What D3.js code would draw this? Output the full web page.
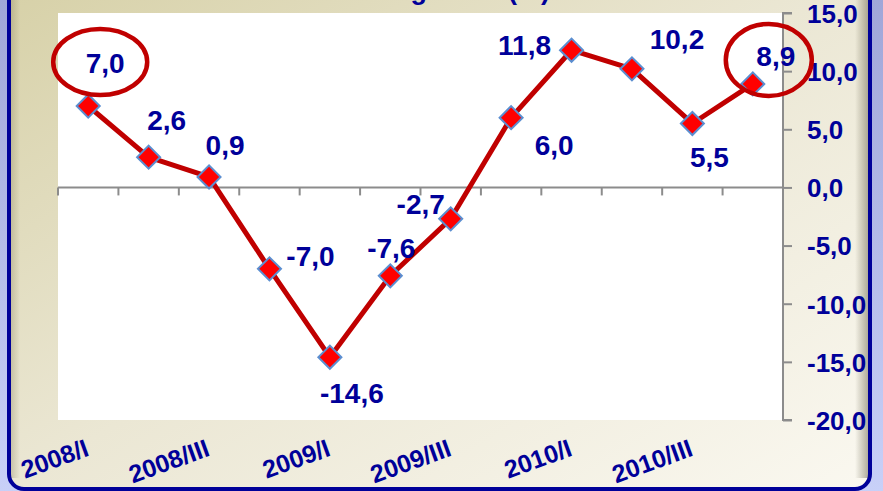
<!DOCTYPE html>
<html>
<head>
<meta charset="utf-8">
<script src="https://cdn.jsdelivr.net/npm/d3@7"></script>
<style>
  html, body { margin: 0; padding: 0; background: #b4bae8; overflow: hidden; }
  svg { display: block; font-family: Arial, "Liberation Sans", sans-serif; }
</style>
</head>
<body>
<svg id="chart" width="883" height="491"></svg>
<script>
// quarters
var categories = ["2008/I", "2008/II", "2008/III", "2008/IV", "2009/I", "2009/II",
                  "2009/III", "2009/IV", "2010/I", "2010/II", "2010/III", "2010/IV"];
// growth (%)
var values = [7.0, 2.6, 0.9, -7.0, -14.6, -7.6, -2.7, 6.0, 11.8, 10.2, 5.5, 8.9];
// labels written under the plot (every other quarter)
var shownLabels = ["2008/I", "2008/III", "2009/I", "2009/III", "2010/I", "2010/III"];
// right axis
var yTicks = [-20, -15, -10, -5, 0, 5, 10, 15];
// points whose label is circled
var circled = [0, 11];

// where each value label sits, relative to its marker (hand placed, like in the original)
var labelOffsets = [[17, -33], [18, -27], [16, -22], [41, -3], [22, 46], [1, -18],
                    [-30, -5], [43, 37], [-47, 5], [45, -20], [17, 44], [23, -18]];
// ellipse around a circled label: offset from label baseline and radii
var ellipseShape = { 0: [-5, -11, 47, 33], 11: [-7, -6, 43, 36] };

var W = 883, H = 491;
var plot = { left: 58, right: 783, top: 13, bottom: 420 };
var navy = "#000099";

var svg = d3.select("#chart");
var defs = svg.append("defs");

// background gradients
var g1 = defs.append("linearGradient").attr("id", "outer").attr("x1", 0).attr("y1", 0).attr("x2", 0).attr("y2", 1);
g1.append("stop").attr("offset", 0).attr("stop-color", "#a0a6d8");
g1.append("stop").attr("offset", 1).attr("stop-color", "#c8d0f8");

var g2 = defs.append("linearGradient").attr("id", "panel").attr("x1", 0).attr("y1", 0).attr("x2", 1).attr("y2", 1);
g2.append("stop").attr("offset", 0).attr("stop-color", "#d6d0a6");
g2.append("stop").attr("offset", 0.5).attr("stop-color", "#ebe7d4");
g2.append("stop").attr("offset", 1).attr("stop-color", "#faf8f0");

var g3 = defs.append("linearGradient").attr("id", "shadeR").attr("x1", 0).attr("y1", 0).attr("x2", 1).attr("y2", 0);
g3.append("stop").attr("offset", 0).attr("stop-color", "#6b6650").attr("stop-opacity", 0);
g3.append("stop").attr("offset", 1).attr("stop-color", "#6b6650").attr("stop-opacity", 0.55);

var g4 = defs.append("linearGradient").attr("id", "shadeL").attr("x1", 0).attr("y1", 0).attr("x2", 1).attr("y2", 0);
g4.append("stop").attr("offset", 0).attr("stop-color", "#8a8460").attr("stop-opacity", 0.35);
g4.append("stop").attr("offset", 1).attr("stop-color", "#8a8460").attr("stop-opacity", 0);

svg.append("rect").attr("width", W).attr("height", H).attr("fill", "url(#outer)");
svg.append("rect").attr("x", 9).attr("y", -30).attr("width", 861).attr("height", 519)
  .attr("rx", 15).attr("fill", "url(#panel)");
svg.append("rect").attr("x", 855).attr("y", 0).attr("width", 14).attr("height", 478).attr("fill", "url(#shadeR)");
svg.append("rect").attr("x", 11).attr("y", 0).attr("width", 9).attr("height", 478).attr("fill", "url(#shadeL)");
svg.append("rect").attr("x", 9).attr("y", -30).attr("width", 861).attr("height", 519)
  .attr("rx", 15).attr("fill", "none").attr("stroke", navy).attr("stroke-width", 4);

// title, almost entirely above the picture (only descenders show)
svg.append("text").attr("x", 550).attr("y", -1).attr("text-anchor", "end")
  .attr("font-size", 27).attr("font-weight", "bold").attr("fill", navy)
  .text("GDP growth (%)");

// plot area
svg.append("rect").attr("x", plot.left).attr("y", plot.top)
  .attr("width", plot.right - plot.left).attr("height", plot.bottom - plot.top).attr("fill", "#fff");

// scales
var x = d3.scaleBand().domain(categories).range([plot.left, plot.right]);
var y = d3.scaleLinear().domain([-20, 15]).range([plot.bottom, plot.top]);
var cx = function (c) { return x(c) + x.bandwidth() / 2; };

var loc = d3.formatLocale({ decimal: ",", thousands: ".", grouping: [3], currency: ["", ""], minus: "-" });
var fmt = loc.format(".1f");

// right axis
var yAxis = svg.append("g").attr("transform", "translate(" + plot.right + ",0)")
  .call(d3.axisRight(y).tickValues(yTicks).tickSize(9).tickPadding(15).tickFormat(fmt));
yAxis.selectAll("path, line").attr("stroke", "#8c8c8c").attr("stroke-width", 2);
yAxis.select(".domain").attr("d", "M9," + plot.top + "H0V" + plot.bottom + "H9");
yAxis.selectAll("text").attr("fill", navy).attr("font-size", 26).attr("font-weight", "bold")
  .attr("font-family", "Arial, 'Liberation Sans', sans-serif").attr("dy", "0.36em");

// horizontal axis at zero with ticks between quarters
var y0 = y(0);
var bounds = categories.map(function (c) { return x(c); }).concat([plot.right]);
svg.append("line").attr("x1", plot.left).attr("x2", plot.right).attr("y1", y0).attr("y2", y0)
  .attr("stroke", "#8c8c8c").attr("stroke-width", 2);
svg.selectAll("line.xtick").data(bounds).enter().append("line").attr("class", "xtick")
  .attr("x1", function (d) { return d; }).attr("x2", function (d) { return d; })
  .attr("y1", y0).attr("y2", y0 + 8)
  .attr("stroke", "#8c8c8c").attr("stroke-width", 2);

// quarter labels, low position
svg.selectAll("text.xlab").data(shownLabels).enter().append("text").attr("class", "xlab")
  .attr("transform", function (d) { return "translate(" + (cx(d) + 2) + ",455) rotate(-20)"; })
  .attr("text-anchor", "end").attr("font-size", 25).attr("font-weight", "bold").attr("fill", navy)
  .text(function (d) { return d; });

// line
var pts = categories.map(function (c, i) { return { c: c, v: values[i], i: i }; });
var line = d3.line().x(function (d) { return cx(d.c); }).y(function (d) { return y(d.v); });
svg.append("path").datum(pts).attr("d", line)
  .attr("fill", "none").attr("stroke", "#c00000").attr("stroke-width", 5).attr("stroke-linejoin", "round");

// diamonds
svg.selectAll("path.mark").data(pts).enter().append("path").attr("class", "mark")
  .attr("d", d3.symbol().type(d3.symbolSquare).size(265))
  .attr("transform", function (d) { return "translate(" + cx(d.c) + "," + y(d.v) + ") rotate(45)"; })
  .attr("fill", "#ff0000").attr("stroke", "#5b8ed0").attr("stroke-width", 2);

// value labels
var lx = function (d) { return cx(d.c) + labelOffsets[d.i][0]; };
var ly = function (d) { return y(d.v) + labelOffsets[d.i][1]; };
svg.selectAll("text.val").data(pts).enter().append("text").attr("class", "val")
  .attr("x", lx).attr("y", ly).attr("text-anchor", "middle")
  .attr("font-size", 28).attr("font-weight", "bold").attr("fill", navy)
  .text(function (d) { return fmt(d.v); });

// red circles around first and last value
svg.selectAll("ellipse.call").data(pts.filter(function (d) { return circled.indexOf(d.i) >= 0; }))
  .enter().append("ellipse").attr("class", "call")
  .attr("cx", function (d) { return lx(d) + ellipseShape[d.i][0]; })
  .attr("cy", function (d) { return ly(d) + ellipseShape[d.i][1]; })
  .attr("rx", function (d) { return ellipseShape[d.i][2]; })
  .attr("ry", function (d) { return ellipseShape[d.i][3]; })
  .attr("fill", "none").attr("stroke", "#c00000").attr("stroke-width", 4.5);
</script>
</body>
</html>
